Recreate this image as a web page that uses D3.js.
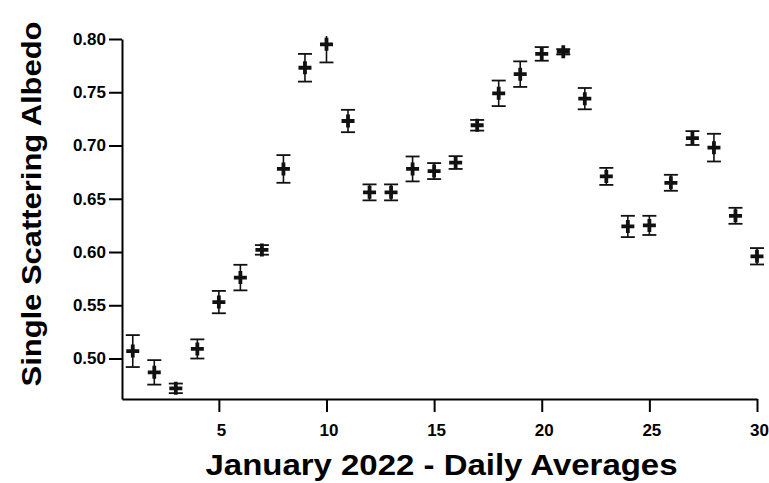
<!DOCTYPE html>
<html>
<head>
<meta charset="utf-8">
<script src="https://cdn.jsdelivr.net/npm/d3@7"></script>
<style>
  body { margin: 0; background: #fff; }
  svg { display: block; }
  .axis text { font-family: "Liberation Sans", Arial, sans-serif; font-weight: bold; fill: #000; }
  .axis path, .axis line { stroke: #000; stroke-width: 2; }
</style>
</head>
<body>
<div id="chart"></div>
<script>
const days = d3.range(1, 31);
const albedo = [0.507, 0.487, 0.472, 0.509, 0.553, 0.576, 0.602, 0.678, 0.773, 0.795,
                0.723, 0.656, 0.656, 0.678, 0.676, 0.684, 0.719, 0.749, 0.767, 0.786,
                0.788, 0.744, 0.671, 0.624, 0.625, 0.665, 0.707, 0.698, 0.634, 0.596];
const errors = [0.015, 0.0115, 0.0045, 0.009, 0.0105, 0.012, 0.0045, 0.013, 0.013, 0.017,
                0.0105, 0.0075, 0.0075, 0.0117, 0.0075, 0.006, 0.005, 0.012, 0.012, 0.0064,
                0.0025, 0.010, 0.008, 0.010, 0.009, 0.0075, 0.0065, 0.013, 0.0075, 0.0077];
const xTicks = [5, 10, 15, 20, 25, 30];
const yTicks = [0.50, 0.55, 0.60, 0.65, 0.70, 0.75, 0.80];

const width = 769, height = 483;
const margin = { top: 39, right: 12, bottom: 84, left: 122 };

const svg = d3.select("#chart").append("svg")
  .attr("width", width)
  .attr("height", height);

const x = d3.scaleLinear().domain([0.5, 30]).range([margin.left, width - margin.right]);
const y = d3.scaleLinear().domain([0.462, 0.80]).range([height - margin.bottom, margin.top]);

svg.append("clipPath").attr("id", "plot-clip")
  .append("rect")
  .attr("x", margin.left).attr("y", margin.top - 3)
  .attr("width", width - margin.left).attr("height", height - margin.bottom - margin.top + 3);

// axes
svg.append("g")
  .attr("class", "axis")
  .attr("transform", `translate(0,${height - margin.bottom})`)
  .call(d3.axisBottom(x).tickValues(xTicks).tickSize(13).tickSizeOuter(0).tickPadding(12))
  .selectAll("text")
  .attr("dx", 2)
  .style("font-size", "17px");

svg.append("g")
  .attr("class", "axis")
  .attr("transform", `translate(${margin.left},0)`)
  .call(d3.axisLeft(y).tickValues(yTicks).tickFormat(d3.format(".2f")).tickSize(13).tickPadding(3).tickSizeOuter(0))
  .selectAll("text")
  .style("font-size", "17px");

// points with error bars
const pts = days.map((d, i) => ({ day: d, v: albedo[i], e: errors[i] }));
const g = svg.append("g").attr("clip-path", "url(#plot-clip)");
const pt = g.selectAll(".pt").data(pts).join("g").attr("class", "pt");

pt.append("line")
  .attr("x1", d => x(d.day)).attr("x2", d => x(d.day))
  .attr("y1", d => y(d.v + d.e)).attr("y2", d => y(d.v - d.e))
  .attr("stroke", "#111").attr("stroke-width", 1.6);

[1, -1].forEach(s => {
  pt.append("line")
    .attr("x1", d => x(d.day) - 7).attr("x2", d => x(d.day) + 7)
    .attr("y1", d => y(d.v + s * d.e)).attr("y2", d => y(d.v + s * d.e))
    .attr("stroke", "#111").attr("stroke-width", 1.8);
});

pt.append("path")
  .attr("d", d => {
    const cx = x(d.day), cy = y(d.v);
    return `M${cx - 6.5},${cy}H${cx + 6.5}M${cx},${cy - 6.5}V${cy + 6.5}`;
  })
  .attr("stroke", "#111").attr("stroke-width", 3.8);

// titles
svg.append("text")
  .attr("x", (x.range()[0] + x.range()[1]) / 2 + 2)
  .attr("y", 475)
  .attr("text-anchor", "middle")
  .attr("textLength", 472).attr("lengthAdjust", "spacingAndGlyphs")
  .style("font-family", "'Liberation Sans', Arial, sans-serif")
  .style("font-weight", "bold").style("font-size", "29px")
  .text("January 2022 - Daily Averages");

svg.append("text")
  .attr("transform", `translate(41,${204}) rotate(-90)`)
  .attr("text-anchor", "middle")
  .attr("textLength", 365).attr("lengthAdjust", "spacingAndGlyphs")
  .style("font-family", "'Liberation Sans', Arial, sans-serif")
  .style("font-weight", "bold").style("font-size", "28px")
  .text("Single Scattering Albedo");
</script>
</body>
</html>
